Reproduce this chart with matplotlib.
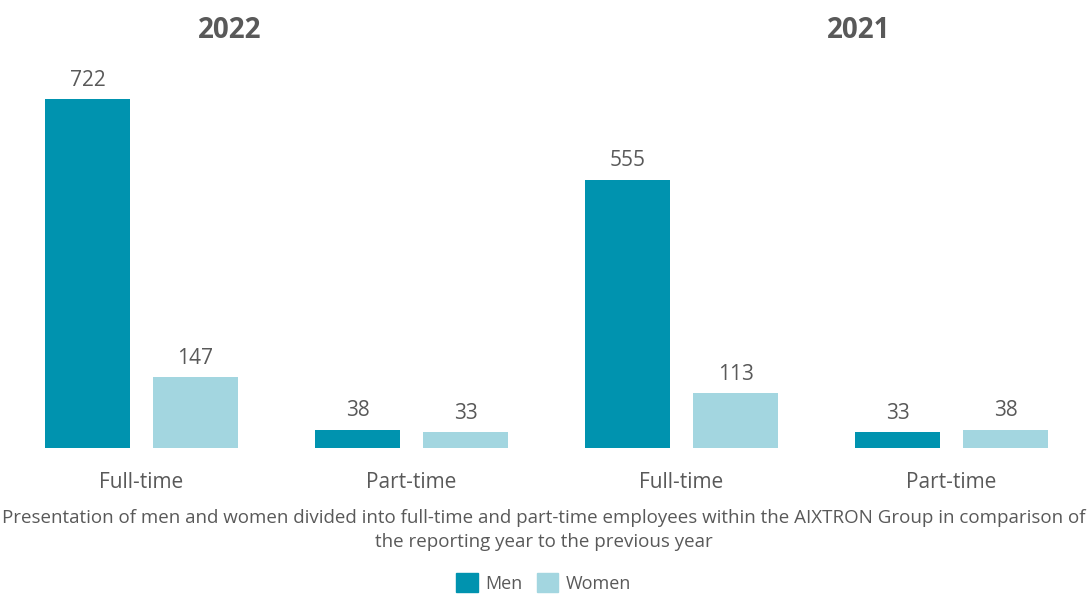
import matplotlib
matplotlib.use("Agg")
import matplotlib.pyplot as plt
import numpy as np
from matplotlib.patches import Patch

years = ["2022", "2021"]
categories = ["Full-time", "Part-time", "Full-time", "Part-time"]
men = [722, 38, 555, 33]
women = [147, 33, 113, 38]

MEN_COLOR = "#0093AF"
WOMEN_COLOR = "#A3D6E0"
TEXT_COLOR = "#595959"

plt.rcParams["font.family"] = ["Open Sans", "DejaVu Sans"]

fig = plt.figure(figsize=(10.87, 5.95), dpi=100)
ax = fig.add_axes([0, 1 - 448 / 595, 1, (448 - 60) / 595])

x = np.arange(len(categories))
w = 0.315
b1 = ax.bar(x - 0.2, men, w, color=MEN_COLOR)
b2 = ax.bar(x + 0.2, women, w, color=WOMEN_COLOR)

for bars in (b1, b2):
    for bar in bars:
        ax.annotate(str(int(bar.get_height())),
                    (bar.get_x() + bar.get_width() / 2, bar.get_height()),
                    xytext=(0, 6), textcoords="offset points",
                    ha="center", va="bottom", fontsize=15, color=TEXT_COLOR)

ax.set_xlim(-141.5 / 270, (1087 - 141.5) / 270)
ax.set_ylim(0, 388 / 0.4834)
ax.set_xticks(x)
ax.set_xticklabels(categories, fontsize=15, color=TEXT_COLOR)
ax.tick_params(axis="x", length=0, pad=17)
ax.set_yticks([])
for s in ax.spines.values():
    s.set_visible(False)

fig.text(230 / 1087, 1 - 30 / 595, years[0], ha="center", va="center",
         fontsize=20, fontweight="bold", color=TEXT_COLOR)
fig.text(859 / 1087, 1 - 30 / 595, years[1], ha="center", va="center",
         fontsize=20, fontweight="bold", color=TEXT_COLOR)

cap_font = ["Liberation Sans Narrow", "Open Sans", "DejaVu Sans"]
fig.text(0.5, 1 - 530 / 595,
         "Presentation of men and women divided into full-time and part-time employees within the AIXTRON Group in comparison of\nthe reporting year to the previous year",
         ha="center", va="center", fontsize=13.5, color=TEXT_COLOR,
         family=cap_font, linespacing=1.4)

handles = [Patch(color=MEN_COLOR, label="Men"), Patch(color=WOMEN_COLOR, label="Women")]
fig.legend(handles=handles, loc="center", bbox_to_anchor=(0.5, 1 - 583 / 595),
           ncol=2, frameon=False, handlelength=1.2, handleheight=1.2,
           columnspacing=0.8, handletextpad=0.4, labelcolor=TEXT_COLOR,
           prop={"family": cap_font, "size": 13})

fig.savefig("out.png", dpi=100)
